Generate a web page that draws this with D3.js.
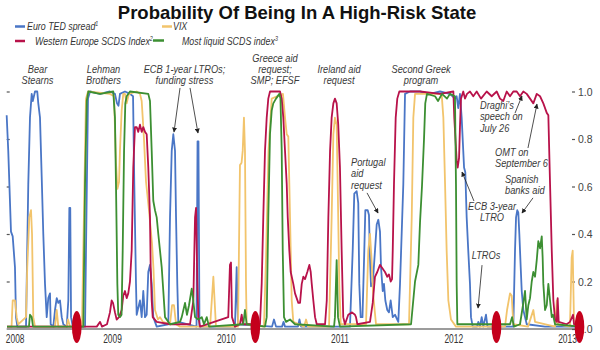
<!DOCTYPE html>
<html>
<head>
<meta charset="utf-8">
<script src="https://cdn.jsdelivr.net/npm/d3@7"></script>
<style>
    body { margin: 0; background: #fff; }
    svg { display: block; font-family: "Liberation Sans", Arial, sans-serif; }
</style>
</head>
<body>
<div id="chart"></div>
<script>
// Data: [decimal year, probability]
const years = [2008, 2009, 2010, 2011, 2012, 2013];
const yTicks = [0, 0.2, 0.4, 0.6, 0.8, 1.0];

const seriesNames = ["Euro TED spread", "VIX", "Western Europe SCDS Index", "Most liquid SCDS index"];
const seriesNotes = ["1", "", "2", "3"];

const tedSpread = [[2008.074,0.90],[2008.088,0.75],[2008.112,0.41],[2008.127,0.39],[2008.147,0.26],[2008.156,0.05],[2008.168,0.01],[2008.209,0.01],[2008.244,0.01],[2008.250,0.19],[2008.264,0.61],[2008.279,0.89],[2008.294,0.99],[2008.304,0.96],[2008.323,1.0],[2008.343,1.0],[2008.352,0.95],[2008.367,0.89],[2008.382,0.64],[2008.396,0.40],[2008.411,0.19],[2008.426,0.05],[2008.440,0.13],[2008.455,0.15],[2008.461,0.02],[2008.484,0.01],[2008.499,0.08],[2008.514,0.13],[2008.528,0.11],[2008.543,0.12],[2008.558,0.05],[2008.572,0.02],[2008.602,0.01],[2008.616,0.12],[2008.625,0.51],[2008.633,0.51],[2008.640,0.05],[2008.655,0.01],[2008.763,0.01],[2008.776,0.5],[2008.789,0.97],[2008.807,1.0],[2008.895,0.99],[2008.982,1.0],[2009.026,0.99],[2009.044,0.95],[2009.057,0.94],[2009.070,0.99],[2009.114,1.0],[2009.158,0.99],[2009.185,0.98],[2009.196,0.61],[2009.211,0.19],[2009.217,0.06],[2009.246,0.12],[2009.261,0.05],[2009.275,0.16],[2009.290,0.05],[2009.305,0.06],[2009.319,0.24],[2009.334,0.27],[2009.349,0.19],[2009.363,0.05],[2009.393,0.01],[2009.495,0.02],[2009.510,0.47],[2009.525,0.75],[2009.539,0.82],[2009.554,0.75],[2009.563,0.47],[2009.574,0.19],[2009.583,0.03],[2009.743,0.01],[2009.752,0.79],[2009.760,0.79],[2009.769,0.01],[2010.081,0.01],[2010.096,0.26],[2010.108,0.02],[2010.407,0.01],[2010.424,0.04],[2010.442,0.01],[2010.495,0.01],[2010.508,0.03],[2010.521,0.01],[2010.635,0.01],[2010.648,0.04],[2010.662,0.01],[2011.092,0.01],[2011.116,0.33],[2011.130,0.57],[2011.151,0.58],[2011.165,0.53],[2011.174,0.19],[2011.186,0.05],[2011.202,0.05],[2011.218,0.33],[2011.227,0.50],[2011.248,0.50],[2011.259,0.48],[2011.268,0.30],[2011.277,0.18],[2011.292,0.19],[2011.312,0.33],[2011.327,0.44],[2011.341,0.46],[2011.356,0.41],[2011.365,0.26],[2011.380,0.16],[2011.391,0.19],[2011.403,0.12],[2011.420,0.08],[2011.435,0.07],[2011.450,0.12],[2011.468,0.05],[2011.488,0.06],[2011.517,0.03],[2011.532,0.19],[2011.561,0.61],[2011.576,0.99],[2011.620,1.0],[2011.708,1.0],[2011.796,0.99],[2011.884,1.0],[2011.971,0.99],[2012.015,0.97],[2012.030,0.98],[2012.044,0.93],[2012.059,0.99],[2012.074,0.89],[2012.088,0.75],[2012.095,0.68],[2012.106,0.66],[2012.118,0.47],[2012.132,0.33],[2012.147,0.19],[2012.156,0.05],[2012.171,0.01],[2012.209,0.01],[2012.220,0.03],[2012.235,0.01],[2012.250,0.05],[2012.264,0.01],[2012.288,0.06],[2012.301,0.01],[2012.528,0.01],[2012.543,0.33],[2012.552,0.47],[2012.563,0.50],[2012.572,0.49],[2012.581,0.40],[2012.593,0.26],[2012.602,0.16],[2012.616,0.08],[2012.631,0.05],[2012.646,0.02],[2012.807,0.01],[2013.114,0.01]];

const vix = [[2008.077,0.01],[2008.117,0.01],[2008.127,0.12],[2008.147,0.12],[2008.162,0.05],[2008.176,0.02],[2008.244,0.05],[2008.255,0.26],[2008.273,0.47],[2008.288,0.50],[2008.297,0.40],[2008.308,0.05],[2008.323,0.01],[2008.499,0.01],[2008.514,0.08],[2008.528,0.01],[2008.602,0.01],[2008.613,0.04],[2008.631,0.01],[2008.736,0.01],[2008.754,0.5],[2008.771,0.97],[2008.789,1.0],[2008.982,0.99],[2009.018,0.98],[2009.035,0.70],[2009.048,0.59],[2009.062,0.62],[2009.070,0.75],[2009.085,0.92],[2009.099,0.99],[2009.114,0.99],[2009.129,0.95],[2009.149,0.99],[2009.217,1.0],[2009.246,0.99],[2009.261,0.96],[2009.270,0.89],[2009.281,0.80],[2009.299,0.62],[2009.325,0.50],[2009.352,0.36],[2009.365,0.25],[2009.378,0.08],[2009.404,0.04],[2009.422,0.05],[2009.448,0.03],[2009.510,0.02],[2009.528,0.10],[2009.545,0.10],[2009.563,0.02],[2009.598,0.01],[2009.862,0.01],[2009.891,0.22],[2009.914,0.01],[2010.108,0.01],[2010.125,0.69],[2010.139,0.70],[2010.149,0.75],[2010.160,0.89],[2010.169,0.75],[2010.178,0.19],[2010.184,0.02],[2010.336,0.01],[2010.354,0.3],[2010.376,0.75],[2010.404,0.97],[2010.503,0.99],[2010.521,0.89],[2010.536,0.82],[2010.550,0.81],[2010.559,0.61],[2010.571,0.33],[2010.580,0.12],[2010.594,0.03],[2010.688,0.01],[2010.706,0.04],[2010.723,0.01],[2010.908,0.01],[2010.931,0.47],[2010.946,0.82],[2010.960,0.89],[2010.975,0.86],[2010.984,0.61],[2010.998,0.19],[2011.011,0.02],[2011.233,0.02],[2011.253,0.33],[2011.268,0.40],[2011.281,0.30],[2011.295,0.15],[2011.321,0.02],[2011.497,0.02],[2011.611,0.02],[2011.635,0.47],[2011.649,0.89],[2011.664,0.99],[2011.898,0.99],[2011.913,0.89],[2011.928,0.61],[2011.942,0.33],[2011.957,0.12],[2011.980,0.04],[2012.024,0.01],[2012.455,0.01],[2012.473,0.08],[2012.499,0.15],[2012.514,0.14],[2012.528,0.02],[2012.657,0.01],[2012.684,0.05],[2012.704,0.08],[2012.719,0.03],[2012.895,0.01],[2012.910,0.12],[2012.921,0.02],[2013.026,0.01],[2013.041,0.30],[2013.050,0.33],[2013.062,0.02],[2013.114,0.01]];

const westEuropeScds = [[2008.077,0.01],[2008.763,0.01],[2008.866,0.01],[2008.895,0.03],[2008.912,0.01],[2008.956,0.02],[2008.982,0.07],[2008.997,0.12],[2009.009,0.11],[2009.026,0.07],[2009.041,0.04],[2009.062,0.05],[2009.085,0.08],[2009.099,0.14],[2009.114,0.16],[2009.129,0.13],[2009.143,0.15],[2009.158,0.20],[2009.173,0.33],[2009.187,0.68],[2009.202,0.85],[2009.217,0.85],[2009.231,0.83],[2009.246,0.86],[2009.261,0.83],[2009.275,0.85],[2009.290,0.83],[2009.305,0.82],[2009.319,0.68],[2009.334,0.47],[2009.340,0.26],[2009.349,0.12],[2009.358,0.05],[2009.393,0.03],[2009.510,0.02],[2009.686,0.02],[2009.715,0.12],[2009.730,0.47],[2009.739,0.51],[2009.750,0.20],[2009.759,0.05],[2009.774,0.01],[2010.022,0.05],[2010.037,0.27],[2010.046,0.28],[2010.055,0.05],[2010.081,0.01],[2010.125,0.02],[2010.140,0.06],[2010.152,0.02],[2010.301,0.02],[2010.316,0.19],[2010.330,0.47],[2010.345,0.75],[2010.360,0.89],[2010.374,0.97],[2010.389,1.0],[2010.477,1.0],[2010.492,0.97],[2010.506,0.89],[2010.521,0.75],[2010.536,0.61],[2010.545,0.47],[2010.559,0.33],[2010.571,0.24],[2010.594,0.19],[2010.609,0.15],[2010.638,0.11],[2010.653,0.11],[2010.668,0.19],[2010.682,0.22],[2010.697,0.21],[2010.717,0.24],[2010.735,0.27],[2010.747,0.24],[2010.756,0.19],[2010.770,0.12],[2010.785,0.05],[2010.800,0.02],[2010.873,0.02],[2010.888,0.12],[2010.902,0.47],[2010.917,0.75],[2010.931,0.89],[2010.946,0.95],[2010.960,0.97],[2010.975,0.95],[2010.989,0.86],[2011.004,0.68],[2011.019,0.33],[2011.033,0.05],[2011.048,0.02],[2011.077,0.06],[2011.110,0.07],[2011.136,0.06],[2011.145,0.05],[2011.157,0.02],[2011.268,0.03],[2011.292,0.11],[2011.312,0.22],[2011.332,0.24],[2011.356,0.27],[2011.371,0.26],[2011.400,0.24],[2011.420,0.22],[2011.435,0.23],[2011.450,0.20],[2011.462,0.21],[2011.468,0.33],[2011.479,0.61],[2011.494,0.89],[2011.508,0.97],[2011.526,1.0],[2011.708,1.0],[2011.884,0.99],[2012.001,1.0],[2012.009,0.89],[2012.022,0.78],[2012.030,0.71],[2012.039,0.68],[2012.051,0.72],[2012.059,0.85],[2012.068,0.97],[2012.088,1.0],[2012.103,0.97],[2012.121,0.99],[2012.147,1.0],[2012.176,0.98],[2012.206,1.0],[2012.244,0.97],[2012.294,1.0],[2012.338,0.98],[2012.382,1.0],[2012.411,0.97],[2012.440,0.96],[2012.470,1.0],[2012.499,0.98],[2012.528,1.0],[2012.558,1.0],[2012.587,0.98],[2012.616,1.0],[2012.646,0.99],[2012.675,0.97],[2012.704,0.95],[2012.734,0.99],[2012.763,0.98],[2012.792,0.95],[2012.822,0.91],[2012.836,0.90],[2012.851,0.61],[2012.866,0.33],[2012.880,0.12],[2012.895,0.04],[2012.910,0.03],[2012.918,0.13],[2012.927,0.03],[2012.997,0.02],[2013.026,0.03],[2013.053,0.06],[2013.062,0.02],[2013.114,0.02]];

const liquidScds = [[2008.077,0.01],[2008.270,0.01],[2008.279,0.06],[2008.294,0.05],[2008.306,0.01],[2008.748,0.01],[2008.763,0.61],[2008.778,0.96],[2008.792,1.0],[2008.895,0.99],[2009.011,1.0],[2009.026,0.89],[2009.035,0.61],[2009.047,0.19],[2009.055,0.06],[2009.070,0.05],[2009.084,0.06],[2009.094,0.33],[2009.106,0.75],[2009.117,0.95],[2009.129,0.98],[2009.158,1.0],[2009.319,0.99],[2009.334,0.96],[2009.349,0.75],[2009.363,0.54],[2009.378,0.50],[2009.393,0.47],[2009.407,0.40],[2009.422,0.33],[2009.437,0.26],[2009.451,0.16],[2009.466,0.05],[2009.510,0.02],[2009.598,0.03],[2009.613,0.05],[2009.642,0.11],[2009.659,0.06],[2009.677,0.10],[2009.701,0.17],[2009.712,0.13],[2009.730,0.05],[2009.759,0.04],[2009.789,0.05],[2009.809,0.02],[2009.833,0.05],[2009.853,0.01],[2010.154,0.02],[2010.169,0.08],[2010.184,0.02],[2010.345,0.01],[2010.360,0.05],[2010.374,0.47],[2010.389,0.82],[2010.404,0.92],[2010.418,0.95],[2010.442,0.97],[2010.471,0.99],[2010.481,0.97],[2010.492,0.75],[2010.501,0.33],[2010.512,0.05],[2010.530,0.03],[2010.565,0.04],[2010.609,0.02],[2010.952,0.01],[2010.960,0.05],[2010.975,0.29],[2010.987,0.05],[2011.004,0.01],[2011.629,0.02],[2011.664,0.20],[2011.693,0.27],[2011.708,0.45],[2011.725,0.60],[2011.743,0.80],[2011.754,0.95],[2011.769,0.99],[2011.840,0.98],[2011.866,0.96],[2011.901,0.99],[2011.945,0.97],[2011.971,0.99],[2012.015,0.98],[2012.024,0.61],[2012.030,0.19],[2012.036,0.02],[2012.499,0.02],[2012.517,0.05],[2012.534,0.01],[2012.587,0.02],[2012.616,0.11],[2012.631,0.16],[2012.646,0.04],[2012.660,0.10],[2012.675,0.13],[2012.690,0.20],[2012.704,0.24],[2012.719,0.22],[2012.734,0.29],[2012.748,0.37],[2012.763,0.34],[2012.778,0.39],[2012.786,0.30],[2012.792,0.19],[2012.807,0.08],[2012.822,0.10],[2012.836,0.19],[2012.851,0.12],[2012.866,0.05],[2012.877,0.06],[2012.895,0.02],[2013.114,0.01]];

// red ovals on the time axis
const markerDates = [2008.69, 2010.26, 2012.38, 2013.11];

// event labels: x = year, y = probability of first text line
const annotations = [
    { lines: ["Bear", "Stearns"], x: 2008.345, y: 1.078, anchor: "middle" },
    { lines: ["Lehman", "Brothers"], x: 2008.925, y: 1.078, anchor: "middle" },
    { lines: ["ECB 1-year LTROs;", "funding stress"], x: 2009.637, y: 1.078, anchor: "middle" },
    { lines: ["Greece aid", "request;", "SMP; EFSF"], x: 2010.433, y: 1.126, anchor: "middle" },
    { lines: ["Ireland aid", "request"], x: 2010.996, y: 1.078, anchor: "middle" },
    { lines: ["Second Greek", "program"], x: 2011.717, y: 1.078, anchor: "middle" },
    { lines: ["Portugal", "aid", "request"], x: 2011.101, y: 0.686, anchor: "start" },
    { lines: ["Draghi\u2019s", "speech on", "July 26"], x: 2012.235, y: 0.926, anchor: "start" },
    { lines: ["OMT on", "September 6"], x: 2012.367, y: 0.728, anchor: "start" },
    { lines: ["Spanish", "banks aid"], x: 2012.455, y: 0.615, anchor: "start" },
    { lines: ["ECB 3-year", "LTRO"], x: 2012.341, y: 0.501, anchor: "middle" },
    { lines: ["LTROs"], x: 2012.288, y: 0.295, anchor: "middle" }
];

// arrows: [x1, y1, x2, y2] in year / probability
const arrows = [
    [2009.598, 1.015, 2009.545, 0.829],
    [2009.686, 1.015, 2009.756, 0.825],
    [2011.242, 0.573, 2011.339, 0.488],
    [2012.182, 0.539, 2012.077, 0.661],
    [2012.253, 0.269, 2012.218, 0.088],
    [2012.543, 0.909, 2012.604, 0.981],
    [2012.657, 0.762, 2012.736, 0.947],
    [2012.701, 0.552, 2012.604, 0.488]
];

function draw() {
    const dimensions = { width: 600, height: 350 };
    const colors = ["#4a76c6", "#f2c46c", "#b8124a", "#3c8f32"];
    const dataset = [tedSpread, vix, westEuropeScds, liquidScds];
    const narrow = 0.82; // squeeze Liberation Sans into a condensed face

    const svg = d3.select("#chart")
        .append("svg")
        .attr("width", dimensions.width)
        .attr("height", dimensions.height);

    svg.append("defs").append("marker")
        .attr("id", "arrow")
        .attr("viewBox", "0 0 10 10")
        .attr("refX", 9)
        .attr("refY", 5)
        .attr("markerWidth", 5)
        .attr("markerHeight", 5)
        .attr("markerUnits", "userSpaceOnUse")
        .attr("orient", "auto")
        .append("path")
        .attr("d", "M0,0L10,5L0,10z")
        .attr("fill", "#222");

    // Scales
    const xScale = d3.scaleLinear()
        .domain([2008, 2013])
        .range([-1.75, 567]);

    const yScale = d3.scaleLinear()
        .domain([0, 1])
        .range([329, 91.5]);

    const allX = dataset.flat().map(d => d[0]);
    const xMin = d3.min(allX);
    const xMax = d3.max(allX);

    function narrowText(parent, x, y) {
        return parent.append("g")
            .attr("transform", `translate(${x}, ${y}) scale(${narrow}, 1)`)
            .append("text");
    }

    // Title
    svg.append("text")
        .attr("x", 297)
        .attr("y", 18.5)
        .attr("text-anchor", "middle")
        .style("font-weight", "bold")
        .style("font-size", "18.5px")
        .attr("fill", "#111")
        .text("Probability Of Being In A High-Risk State");

    // Legend
    const legendLayout = [
        { dash: [15, 25], dashY: 26.5, textX: 27, textY: 30 },
        { dash: [162, 172], dashY: 26.5, textX: 173, textY: 30 },
        { dash: [15, 25], dashY: 41, textX: 35, textY: 44.5 },
        { dash: [153, 164], dashY: 40.5, textX: 182, textY: 44.5 }
    ];
    legendLayout.forEach((l, i) => {
        svg.append("line")
            .attr("x1", l.dash[0]).attr("x2", l.dash[1])
            .attr("y1", l.dashY).attr("y2", l.dashY)
            .attr("stroke", colors[i])
            .attr("stroke-width", 2.5);
        const t = narrowText(svg, l.textX, l.textY)
            .style("font-size", "10.8px")
            .style("font-style", "italic")
            .attr("fill", "#333")
            .text(seriesNames[i]);
        if (seriesNotes[i]) {
            t.append("tspan")
                .attr("dy", -4)
                .style("font-size", "6.5px")
                .text(seriesNotes[i]);
        }
    });

    // Baseline
    svg.append("line")
        .attr("x1", xScale(xMin))
        .attr("x2", xScale(xMax))
        .attr("y1", yScale(0))
        .attr("y2", yScale(0))
        .attr("stroke", "#9c9c9c")
        .attr("stroke-width", 2);

    // Axes
    const rightAxis = d3.axisRight(yScale)
        .tickValues(yTicks)
        .tickSize(3)
        .tickPadding(3)
        .tickFormat(d3.format(".1f"));

    const rightAxisGroup = svg.append("g")
        .attr("transform", "translate(572, 0)")
        .call(rightAxis);
    rightAxisGroup.select(".domain").remove();
    rightAxisGroup.selectAll(".tick line").attr("stroke", "#555").attr("stroke-width", 1.2);
    rightAxisGroup.selectAll(".tick text")
        .style("font-family", "'Liberation Sans', Arial, sans-serif")
        .style("font-size", "11px")
        .attr("fill", "#444")
        .attr("x", 6 / 0.95)
        .attr("transform", "scale(0.95, 1)");

    const leftAxisGroup = svg.append("g")
        .attr("transform", "translate(6.7, 0)")
        .call(d3.axisRight(yScale).tickValues(yTicks.slice(1)).tickSize(3).tickFormat(""));
    leftAxisGroup.select(".domain").remove();
    leftAxisGroup.selectAll(".tick line").attr("stroke", "#555").attr("stroke-width", 1.2);

    const yearSqueeze = 0.7;
    const xAxisGroup = svg.append("g")
        .attr("transform", `translate(0, ${yScale(0)})`)
        .call(d3.axisBottom(xScale).tickValues(years).tickSize(0).tickPadding(5).tickFormat(d3.format("d")));
    xAxisGroup.select(".domain").remove();
    xAxisGroup.selectAll(".tick text")
        .style("font-family", "'Liberation Sans', Arial, sans-serif")
        .style("font-size", "12px")
        .attr("fill", "#333")
        .attr("transform", `scale(${yearSqueeze}, 1)`)
        .attr("x", d => Math.max(0, xScale(xMin) + 8 - xScale(d)) / yearSqueeze);

    // Lines
    const line = d3.line()
        .x(d => xScale(d[0]))
        .y(d => yScale(d[1]));

    svg.append("g")
        .selectAll("path")
        .data(dataset)
        .join("path")
        .attr("d", d => line(d))
        .attr("fill", "none")
        .attr("stroke", (d, i) => colors[i])
        .attr("stroke-width", 1.8)
        .attr("stroke-linejoin", "round");

    // Red ovals
    svg.append("g")
        .selectAll("ellipse")
        .data(markerDates)
        .join("ellipse")
        .attr("cx", d => xScale(d))
        .attr("cy", yScale(0) - 2)
        .attr("rx", 4.8)
        .attr("ry", 16)
        .attr("fill", "#c4001c");

    // Annotations
    const lineHeight = 11.3;
    const annGroup = svg.append("g")
        .style("font-size", "11.3px")
        .style("font-style", "italic")
        .attr("fill", "#3a3a3a");

    annotations.forEach(a => {
        const t = narrowText(annGroup, xScale(a.x), yScale(a.y))
            .attr("text-anchor", a.anchor);
        a.lines.forEach((s, i) => {
            t.append("tspan")
                .attr("x", 0)
                .attr("y", i * lineHeight)
                .text(s);
        });
    });

    svg.append("g")
        .selectAll("line")
        .data(arrows)
        .join("line")
        .attr("x1", d => xScale(d[0]))
        .attr("y1", d => yScale(d[1]))
        .attr("x2", d => xScale(d[2]))
        .attr("y2", d => yScale(d[3]))
        .attr("stroke", "#222")
        .attr("stroke-width", 0.8)
        .attr("marker-end", "url(#arrow)");
}

draw();
</script>
</body>
</html>
